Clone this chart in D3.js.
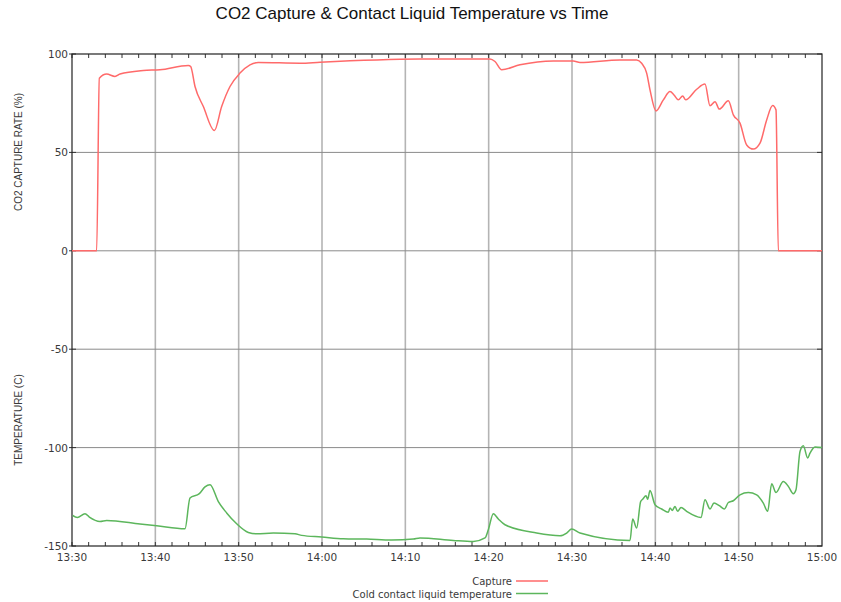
<!DOCTYPE html>
<html lang="en">
<head>
<meta charset="utf-8">
<title>CO2 Capture</title>
<script src="https://cdnjs.cloudflare.com/ajax/libs/d3/7.8.5/d3.min.js"></script>
<style>
  body { margin: 0; background: #fff; }
  text { fill: #3a3a3a; }
</style>
</head>
<body>
<script>
// minutes after 13:30 and values
var captureMin = [0, 2.96, 3.28, 4.16, 5.16, 5.76, 8.56, 10.56, 13.96, 14.24, 14.76, 15.76, 17.08, 17.96, 18.96, 20.16, 21.36, 22.36, 27.36, 29.76, 41.76, 50.16, 50.76, 51.56, 53.76, 57.76, 60.16, 60.96, 65.76, 67.76, 68.36, 68.96, 69.36, 70.08, 70.96, 71.76, 72.24, 72.76, 73.28, 73.64, 74.96, 75.96, 76.56, 77.16, 77.68, 78.76, 79.36, 80.16, 80.96, 81.76, 82.56, 83.36, 84.08, 84.48, 84.76, 90];
var captureVal = [0, 0, 87.7, 89.8, 88.6, 89.8, 91.6, 92, 94.2, 93.6, 83.5, 73.3, 61.1, 73.3, 83.5, 90.3, 94.5, 95.7, 95.3, 95.8, 97.4, 97.5, 96.2, 92, 94.5, 96.5, 96.5, 95.7, 97, 97, 95.3, 90.3, 81.8, 71.1, 76.7, 80.9, 79.2, 76.7, 78.7, 76.7, 82.1, 84.7, 73.7, 75.8, 72, 76.2, 69.1, 64.9, 53.8, 51.7, 54.7, 66.5, 73.8, 71.6, 0, 0];

var tempMin = [0.08, 0.64, 1.56, 2.08, 3.36, 4.16, 8.16, 10.16, 13.56, 14.16, 15.28, 15.96, 16.56, 17.56, 18.56, 19.76, 21.16, 22.16, 24.16, 26.76, 27.56, 29.96, 32.56, 35.36, 38.36, 40.96, 41.76, 45.76, 48.16, 49.56, 49.96, 50.56, 51.16, 51.96, 55.76, 58.56, 59.36, 59.96, 60.96, 66.96, 67.28, 67.76, 68.24, 68.48, 68.88, 69.08, 69.36, 69.96, 70.76, 71.56, 71.76, 72.04, 72.36, 72.68, 73.08, 73.76, 75.48, 75.96, 76.56, 77.04, 77.68, 78.28, 78.76, 79.36, 80.16, 81.16, 82.16, 82.96, 83.48, 83.96, 84.48, 85.36, 85.96, 86.56, 86.88, 87.36, 87.76, 88.28, 88.56, 89.16, 90];
var tempVal = [-134.5, -135.5, -133.6, -135.3, -137.5, -137, -138.8, -139.7, -141.2, -125.6, -123.4, -120, -118.9, -127.4, -133.2, -138.7, -143.1, -143.8, -143.4, -143.8, -144.6, -145.4, -146.3, -146.5, -147, -146.5, -145.9, -147.2, -147.7, -145.9, -141.7, -133.6, -136.3, -139.2, -143.4, -144.8, -143.4, -141.4, -143.4, -147.2, -136.3, -140.9, -127.4, -126.2, -124.5, -126.2, -121.8, -129, -131.2, -132.9, -130.7, -131.9, -129.9, -132.4, -130.4, -132.4, -135.5, -126.5, -131.2, -128.2, -129.5, -131.2, -127.9, -127, -124, -122.8, -124, -128.2, -132.4, -118.4, -122.8, -117.2, -119.7, -123.4, -121.4, -102, -99.1, -105.3, -102.8, -99.7, -100];

var yTicks = [100, 50, 0, -50, -100, -150];
var xTickLabels = ["13:30", "13:40", "13:50", "14:00", "14:10", "14:20", "14:30", "14:40", "14:50", "15:00"];
var seriesNames = ["Capture", "Cold contact liquid temperature"];
var seriesColors = ["#ff6a6a", "#5cb65c"];

var w = 841, h = 602;
var pLeft = 72, pRight = 822, pTop = 54, pBottom = 546;

var parseTime = d3.timeParse("%H:%M");
var t0 = parseTime("13:30"), t1 = parseTime("15:00");
function at(m) { return new Date(t0.getTime() + m * 60000); }

var x = d3.scaleTime().domain([t0, t1]).range([pLeft, pRight]);
var y = d3.scaleLinear().domain([-150, 100]).range([pBottom, pTop]);

var svg = d3.select("body").append("svg")
  .attr("width", w)
  .attr("height", h);

// vertical grid
svg.append("g").selectAll("line")
  .data(xTickLabels.slice(1, -1))
  .enter().append("line")
  .attr("x1", function(d) { return x(parseTime(d)); })
  .attr("x2", function(d) { return x(parseTime(d)); })
  .attr("y1", pTop).attr("y2", pBottom)
  .attr("stroke", "#b4b4b4")
  .attr("stroke-width", 1.6);

// horizontal grid
svg.append("g").selectAll("line")
  .data(yTicks.slice(1, -1))
  .enter().append("line")
  .attr("x1", pLeft).attr("x2", pRight)
  .attr("y1", function(d) { return y(d); })
  .attr("y2", function(d) { return y(d); })
  .attr("stroke", "#8a8a8a")
  .attr("stroke-width", 1);

// minor ticks every 2 min, top and bottom, pointing inward
var minor = d3.timeMinute.every(2).range(t0, t1);
svg.append("g").selectAll("line")
  .data(minor)
  .enter().append("line")
  .attr("x1", function(d) { return x(d); })
  .attr("x2", function(d) { return x(d); })
  .attr("y1", pBottom).attr("y2", pBottom - 4)
  .attr("stroke", "#333");
svg.append("g").selectAll("line")
  .data(minor)
  .enter().append("line")
  .attr("x1", function(d) { return x(d); })
  .attr("x2", function(d) { return x(d); })
  .attr("y1", pTop).attr("y2", pTop + 4)
  .attr("stroke", "#333");

// y ticks on both sides
svg.append("g").selectAll("line")
  .data(yTicks)
  .enter().append("line")
  .attr("x1", pLeft - 3).attr("x2", pLeft + 4)
  .attr("y1", function(d) { return y(d); })
  .attr("y2", function(d) { return y(d); })
  .attr("stroke", "#333");
svg.append("g").selectAll("line")
  .data(yTicks)
  .enter().append("line")
  .attr("x1", pRight - 5).attr("x2", pRight)
  .attr("y1", function(d) { return y(d); })
  .attr("y2", function(d) { return y(d); })
  .attr("stroke", "#333");

// frame
svg.append("rect")
  .attr("x", pLeft).attr("y", pTop)
  .attr("width", pRight - pLeft).attr("height", pBottom - pTop)
  .attr("fill", "none")
  .attr("stroke", "#222")
  .attr("stroke-width", 1.2);

// tick labels
svg.append("g").selectAll("text")
  .data(yTicks)
  .enter().append("text")
  .attr("x", pLeft - 4)
  .attr("y", function(d) { return y(d) + 4; })
  .attr("text-anchor", "end")
  .attr("font-family", "DejaVu Sans")
  .attr("font-size", "10.5px")
  .text(function(d) { return d; });

svg.append("g").selectAll("text")
  .data(xTickLabels)
  .enter().append("text")
  .attr("x", function(d) { return x(parseTime(d)); })
  .attr("y", pBottom + 15)
  .attr("text-anchor", "middle")
  .attr("font-family", "DejaVu Sans")
  .attr("font-size", "10.5px")
  .text(function(d) { return d; });

// lines
var line = d3.line()
  .x(function(d) { return x(at(d[0])); })
  .y(function(d) { return y(d[1]); })
  .curve(d3.curveMonotoneX);

svg.append("path")
  .datum(d3.zip(captureMin, captureVal))
  .attr("d", line)
  .attr("fill", "none")
  .attr("stroke", seriesColors[0])
  .attr("stroke-width", 1.5);

svg.append("path")
  .datum(d3.zip(tempMin, tempVal))
  .attr("d", line)
  .attr("fill", "none")
  .attr("stroke", seriesColors[1])
  .attr("stroke-width", 1.5);

// title and axis names
svg.append("text")
  .attr("x", 412).attr("y", 19)
  .attr("text-anchor", "middle")
  .attr("font-family", "Liberation Sans, Arial, sans-serif")
  .attr("font-size", "17px")
  .style("fill", "#111")
  .text("CO2 Capture & Contact Liquid Temperature vs Time");

svg.append("text")
  .attr("transform", "translate(22,152) rotate(-90)")
  .attr("text-anchor", "middle")
  .attr("font-family", "Liberation Sans, Arial, sans-serif")
  .attr("font-size", "10px")
  .text("CO2 CAPTURE RATE (%)");

svg.append("text")
  .attr("transform", "translate(22,420) rotate(-90)")
  .attr("text-anchor", "middle")
  .attr("font-family", "Liberation Sans, Arial, sans-serif")
  .attr("font-size", "10px")
  .text("TEMPERATURE (C)");

// legend
var legend = svg.append("g").selectAll("g")
  .data(seriesNames)
  .enter().append("g")
  .attr("transform", function(d, i) { return "translate(0," + (581 + i * 12.5) + ")"; });
legend.append("text")
  .attr("x", 512).attr("y", 4)
  .attr("text-anchor", "end")
  .attr("font-family", "DejaVu Sans")
  .attr("font-size", "10px")
  .text(function(d) { return d; });
legend.append("line")
  .attr("x1", 516).attr("x2", 548)
  .attr("y1", 0).attr("y2", 0)
  .attr("stroke", function(d, i) { return seriesColors[i]; })
  .attr("stroke-width", 1.5);
</script>
</body>
</html>
